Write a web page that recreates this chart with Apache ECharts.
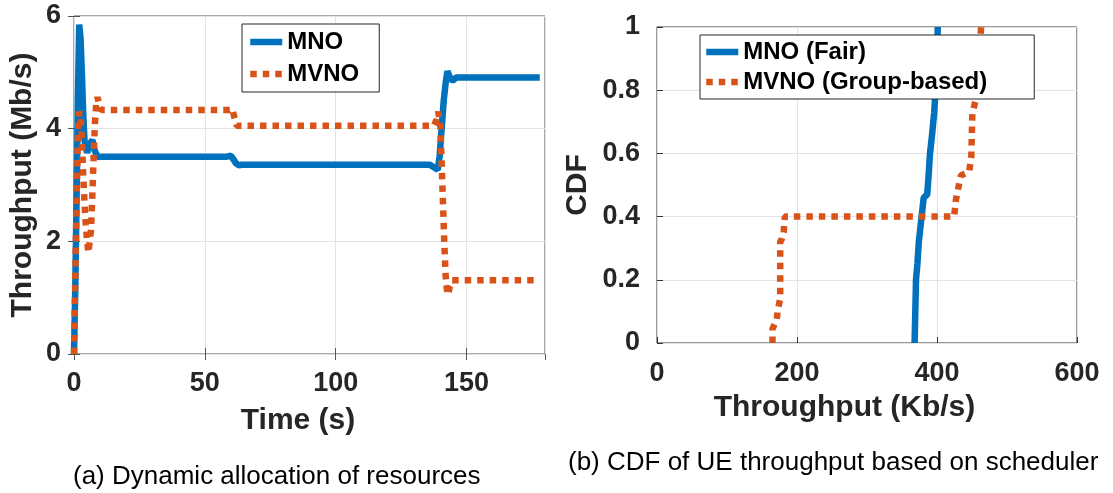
<!DOCTYPE html>
<html>
<head>
<meta charset="utf-8">
<script src="https://cdn.jsdelivr.net/npm/echarts@6/dist/echarts.min.js"></script>
<style>
  html, body { margin: 0; padding: 0; background: #fff; }
  #chart { width: 1113px; height: 493px; }
</style>
</head>
<body>
<div id="chart"></div>
<script>
// (a) throughput over time (Mb/s)
const mnoTime = [0, 0.5, 1, 1.5, 2, 2.5, 3, 3.5, 4, 5, 6, 7, 8, 9, 10, 58, 60, 61, 62, 63, 64,
  136, 138, 139, 139.7, 140.5, 141.3, 142, 142.7, 143.3, 144, 145, 146, 178];
const mnoRate = [0, 1.2, 2.8, 4.6, 5.85, 5.6, 5.0, 4.3, 3.8, 3.57, 3.72, 3.8, 3.6, 3.5, 3.5, 3.5, 3.52, 3.45, 3.38, 3.35, 3.36,
  3.36, 3.3, 3.27, 3.5, 4.0, 4.5, 4.8, 5.02, 5.05, 4.87, 4.86, 4.91, 4.91];
const mvnoTime = [0, 0.5, 1, 1.5, 2, 2.5, 3, 3.5, 4, 4.5, 5, 5.5, 6, 6.5, 7, 7.5, 8, 8.5, 9, 9.5, 10, 11,
  59.5, 60.5, 61.3, 62.2, 63, 137.5, 138.5, 139.2, 140, 140.5, 141, 141.5, 142, 142.5, 143, 143.6, 144.5, 176];
const mvnoRate = [0, 1.4, 2.8, 3.9, 4.3, 4.25, 3.8, 3.2, 2.7, 2.3, 2.0, 1.8, 1.8, 2.2, 2.8, 3.5, 4.1, 4.45, 4.56, 4.45, 4.35, 4.33,
  4.33, 4.35, 4.2, 4.05, 4.05, 4.05, 4.15, 4.3, 4.05, 3.4, 2.7, 2.0, 1.4, 1.15, 1.05, 1.2, 1.31, 1.31];

// (b) CDF of UE throughput (Kb/s)
const fairX = [368, 369, 370, 372, 374, 376, 378, 381, 386, 388, 390, 393, 396, 398, 400, 401];
const fairY = [0, 0.1, 0.2, 0.25, 0.32, 0.36, 0.4, 0.46, 0.47, 0.53, 0.6, 0.66, 0.73, 0.8, 0.87, 1];
const groupX = [165, 165, 171, 172.5, 176, 176, 178.5, 181, 182.5, 424.5, 427, 434, 446, 449, 450.5, 455.5, 463];
const groupY = [0, 0.045, 0.073, 0.104, 0.14, 0.32, 0.33, 0.35, 0.4, 0.4, 0.453, 0.53, 0.542, 0.59, 0.727, 0.77, 1];

const font = 'Liberation Sans, Arial, Helvetica, sans-serif';
const blue = '#0072BD';
const orange = '#D95319';

function pairs (xs, ys) {
  return xs.map((x, i) => [x, ys[i]]);
}

function axis (grid, pos, min, max, step, color, name, nameGap, namePad, labelMargin) {
  const main = pos === 'bottom' || pos === 'left';
  // only show the max label when it falls on a tick
  const onTick = Math.abs(max / step - Math.round(max / step)) < 1e-6;
  return {
    gridIndex: grid,
    type: 'value',
    position: pos,
    min: min,
    max: max,
    interval: step,
    name: main ? name : '',
    nameLocation: 'middle',
    nameGap: nameGap,
    nameTextStyle: {
      fontFamily: font,
      fontSize: 30,
      fontWeight: 'bold',
      color: '#262626',
      padding: namePad
    },
    axisLine: { show: false },
    axisTick: { show: true, inside: true, length: 6, lineStyle: { color: color } },
    axisLabel: {
      show: main,
      margin: labelMargin,
      showMaxLabel: onTick,
      fontFamily: font,
      fontSize: 27,
      fontWeight: 'bold',
      color: '#262626'
    },
    splitLine: { show: main, lineStyle: { color: '#e3e3e3', width: 1 } }
  };
}

const legendText = { fontFamily: font, fontSize: 24, fontWeight: 'bold', color: '#000' };

let myChart = echarts.init(document.getElementById('chart'));
myChart.setOption({
  animation: false,
  grid: [
    { left: 74, top: 16, right: 568, bottom: 139, show: true, borderColor: '#555', borderWidth: 1 },
    { left: 657, top: 27, right: 36, bottom: 150, show: true, borderColor: '#333', borderWidth: 1 }
  ],
  xAxis: [
    axis(0, 'bottom', 0, 180, 50, '#555', 'Time (s)', 52, [0, 23, 0, 0], 16),
    axis(0, 'top', 0, 180, 50, '#555', '', 0, 0, 0),
    axis(1, 'bottom', 0, 600, 200, '#333', 'Throughput (Kb/s)', 50, [0, 45, 0, 0], 17)
  ],
  yAxis: [
    axis(0, 'left', 0, 6, 2, '#555', 'Throughput (Mb/s)', 36, 0, 13),
    axis(0, 'right', 0, 6, 2, '#555', '', 0, 0, 0),
    axis(1, 'left', 0, 1, 0.2, '#333', 'CDF', 64, 0, 17)
  ],
  legend: [
    {
      data: ['MNO', 'MVNO'],
      orient: 'vertical',
      left: 242,
      top: 24,
      itemWidth: 32,
      itemHeight: 24,
      itemGap: 8,
      padding: [6, 20, 6, 5],
      borderColor: '#262626',
      borderWidth: 1,
      backgroundColor: '#fff',
      selectedMode: false,
      itemStyle: { opacity: 0 },
      lineStyle: { width: 6.5 },
      textStyle: legendText
    },
    {
      data: ['MNO (Fair)', 'MVNO (Group-based)'],
      orient: 'vertical',
      left: 700,
      top: 35,
      itemWidth: 32,
      itemHeight: 24,
      itemGap: 6,
      padding: [5, 47, 5, 3],
      borderColor: '#262626',
      borderWidth: 1,
      backgroundColor: '#fff',
      selectedMode: false,
      itemStyle: { opacity: 0 },
      lineStyle: { width: 6.5 },
      textStyle: legendText
    }
  ],
  series: [
    {
      name: 'MNO', type: 'line', xAxisIndex: 0, yAxisIndex: 0,
      symbol: 'none', showSymbol: false,
      lineStyle: { color: blue, width: 6.5 },
      itemStyle: { color: blue },
      data: pairs(mnoTime, mnoRate)
    },
    {
      name: 'MVNO', type: 'line', xAxisIndex: 0, yAxisIndex: 0,
      symbol: 'none', showSymbol: false,
      lineStyle: { color: orange, width: 6.5, type: [6.5, 6] },
      itemStyle: { color: orange },
      data: pairs(mvnoTime, mvnoRate)
    },
    {
      name: 'MNO (Fair)', type: 'line', xAxisIndex: 2, yAxisIndex: 2,
      symbol: 'none', showSymbol: false,
      lineStyle: { color: blue, width: 6.5 },
      itemStyle: { color: blue },
      data: pairs(fairX, fairY)
    },
    {
      name: 'MVNO (Group-based)', type: 'line', xAxisIndex: 2, yAxisIndex: 2,
      symbol: 'none', showSymbol: false,
      lineStyle: { color: orange, width: 6.5, type: [6.5, 6] },
      itemStyle: { color: orange },
      data: pairs(groupX, groupY)
    }
  ],
  graphic: [
    {
      type: 'text', left: 73, top: 464,
      style: { text: '(a) Dynamic allocation of resources', fontFamily: font, fontSize: 26, fill: '#000' }
    },
    {
      type: 'text', left: 568, top: 450,
      style: { text: '(b) CDF of UE throughput based on scheduler', fontFamily: font, fontSize: 26, fill: '#000' }
    }
  ]
});
window.addEventListener('resize', () => {
  myChart.resize();
});
</script>
</body>
</html>
